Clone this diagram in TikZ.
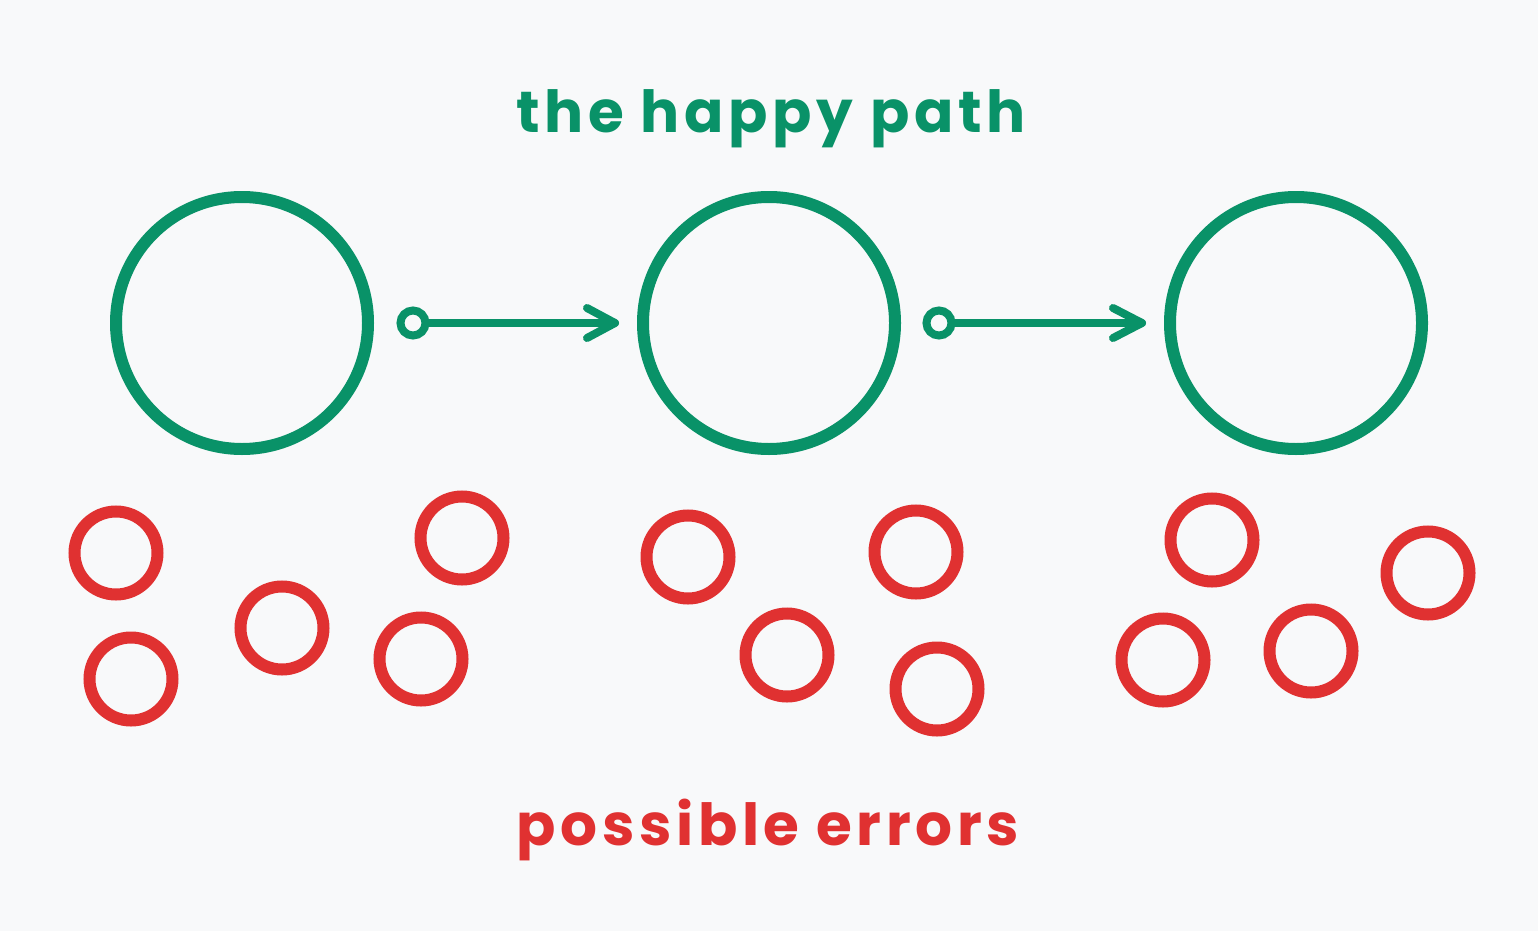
\documentclass[tikz,border=0pt]{standalone}
\usepackage{fontspec}
\setmainfont{Poppins}
\newfontfamily\handfont[LetterSpace=8]{Poppins}
\definecolor{bg}{HTML}{F8F9FA}
\definecolor{happy}{HTML}{099268}
\definecolor{err}{HTML}{E03131}
\tikzset{
  bigstate/.style={circle, draw=happy, line width=12pt, minimum size=252pt, inner sep=0pt},
  errstate/.style={circle, draw=err, line width=12pt, minimum size=83pt, inner sep=0pt},
  dot/.style={circle, draw=happy, line width=8pt, minimum size=25pt, inner sep=0pt},
  flow/.style={draw=happy, line width=8pt, line cap=round, line join=round},
  title/.style={font=\handfont\bfseries\fontsize{58}{62}\selectfont, anchor=base, inner sep=0pt}
}
\begin{document}
\begin{tikzpicture}[x=1pt, y=-1pt]
\fill[bg] (0,0) rectangle (1538,931);
\useasboundingbox (0,0) rectangle (1538,931);
\node[title, text=happy] (t1) at (771,132) {the happy path};
\node[title, text=err] (t2) at (768,845) {possible errors};
\node[bigstate] (s1) at (242,323) {};
\node[bigstate] (s2) at (769,323) {};
\node[bigstate] (s3) at (1296,323) {};
\node[dot] (d1) at (413,323) {};
\node[dot] (d2) at (939,323) {};
\coordinate (a1) at (615,323);
\coordinate (a2) at (1142,323);
\draw[flow] (d1.east) -- (a1);
\draw[flow] (587,308) -- (a1) -- (587,338);
\draw[flow] (d2.east) -- (a2);
\draw[flow] (1113,308) -- (a2) -- (1113,338);
\node[errstate] (e1) at (116,553) {};
\node[errstate] (e2) at (131,679) {};
\node[errstate] (e3) at (282,628) {};
\node[errstate] (e4) at (462,538) {};
\node[errstate] (e5) at (421,659) {};
\node[errstate] (e6) at (688,557) {};
\node[errstate] (e7) at (787,655) {};
\node[errstate] (e8) at (916,552) {};
\node[errstate] (e9) at (937,689) {};
\node[errstate] (e10) at (1212,540) {};
\node[errstate] (e11) at (1163,660) {};
\node[errstate] (e12) at (1311,651) {};
\node[errstate] (e13) at (1428,573) {};
\end{tikzpicture}
\end{document}
